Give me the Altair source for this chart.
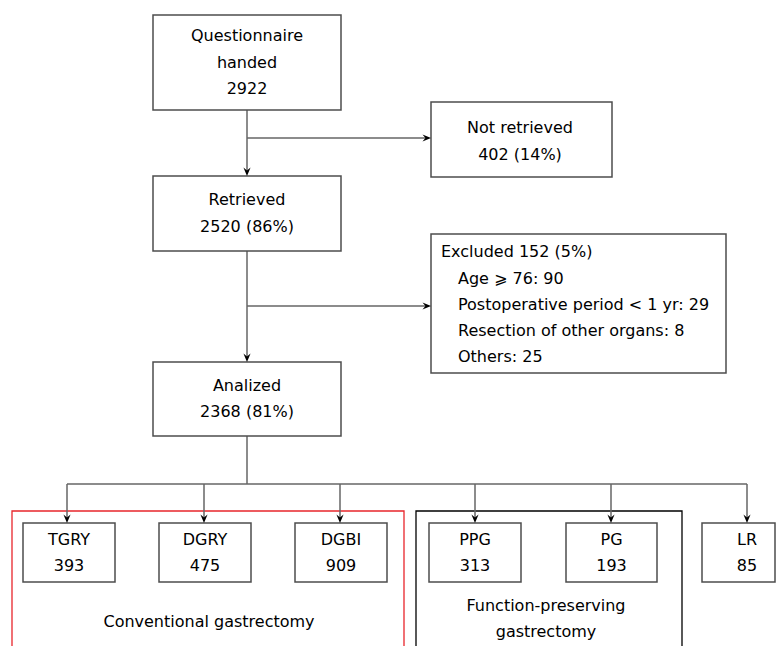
import altair as alt
import pandas as pd

# ---------------- content ----------------
flow_titles = ["Questionnaire\nhanded", "Retrieved", "Analized"]
flow_counts = [2922, 2520, 2368]
flow_pct = ["", "86%", "81%"]

not_retrieved_n = 402
not_retrieved_pct = "14%"

excluded_n = 152
excluded_pct = "5%"
excluded_reasons = ["Age \u2a7e 76: 90", "Postoperative period < 1 yr: 29",
                    "Resection of other organs: 8", "Others: 25"]

groups = ["TGRY", "DGRY", "DGBI", "PPG", "PG", "LR"]
group_n = [393, 475, 909, 313, 193, 85]
categories = ["Conventional gastrectomy", "Function-preserving\ngastrectomy"]

# ---------------- layout (diagram coordinates) ----------------
LH = 26.5
cx_main = 247
main_boxes = [(153, 15, 341, 110), (153, 176, 341, 251), (153, 362, 341, 436)]
nr_box = (431, 102, 612, 177)
ex_box = (431, 234, 726, 373)
small_x = [(23, 115), (159, 251), (295, 387), (429, 521), (566, 657), (702, 775)]
small_y = (523, 582)
arrow_x = [67, 204, 340, 475, 611, 747]
cat_boxes = [(12, 511, 404, 680), (416, 511, 682, 680)]
cat_text = [(209, 622), (546, 619)]
branch_y = 484

boxes, texts = [], []

def add_lines(lines, cx, cy, align="center"):
    n = len(lines)
    for i, ln in enumerate(lines):
        texts.append(dict(x=cx, y=cy + (i - (n - 1) / 2) * LH, t=ln, align=align))

for (x0, y0, x1, y1), title, cnt, pct in zip(main_boxes, flow_titles, flow_counts, flow_pct):
    boxes.append(dict(x0=x0, y0=y0, x1=x1, y1=y1))
    lab = f"{cnt}" + (f" ({pct})" if pct else "")
    add_lines(title.split("\n") + [lab], (x0 + x1) / 2, (y0 + y1) / 2)

boxes.append(dict(x0=nr_box[0], y0=nr_box[1], x1=nr_box[2], y1=nr_box[3]))
add_lines(["Not retrieved", f"{not_retrieved_n} ({not_retrieved_pct})"], 520, 141.5)

boxes.append(dict(x0=ex_box[0], y0=ex_box[1], x1=ex_box[2], y1=ex_box[3]))
texts.append(dict(x=441, y=252, t=f"Excluded {excluded_n} ({excluded_pct})", align="left"))
for i, r in enumerate(excluded_reasons):
    texts.append(dict(x=458, y=279 + i * 26, t=r, align="left"))

for (x0, x1), g, n, ax in zip(small_x, groups, group_n, arrow_x):
    boxes.append(dict(x0=x0, y0=small_y[0], x1=x1, y1=small_y[1]))
    add_lines([g, str(n)], ax if g == "LR" else (x0 + x1) / 2, 553)

for (cx, cy), c in zip(cat_text, categories):
    add_lines(c.split("\n"), cx, cy)

box_df = pd.DataFrame(boxes)
text_df = pd.DataFrame(texts)
cat_df = pd.DataFrame([dict(x0=b[0], y0=b[1], x1=b[2], y1=b[3], c=c)
                       for b, c in zip(cat_boxes, ["#e8262b", "black"])])

segs = [
    (cx_main, 110, cx_main, 172),
    (cx_main, 138, 426, 138),
    (cx_main, 251, cx_main, 358),
    (cx_main, 306, 427, 306),
    (cx_main, 436, cx_main, branch_y),
    (arrow_x[0], branch_y, arrow_x[-1], branch_y),
] + [(ax, branch_y, ax, small_y[0] - 4) for ax in arrow_x]
seg_df = pd.DataFrame(segs, columns=["x0", "y0", "x1", "y1"])

down_df = pd.DataFrame([(cx_main, 176), (cx_main, 362)] + [(ax, small_y[0]) for ax in arrow_x],
                       columns=["x", "y"])
right_df = pd.DataFrame([(431, 138), (431, 306)], columns=["x", "y"])

# ---------------- chart ----------------
xs = alt.Scale(domain=[8, 776], nice=False, zero=False)
ys = alt.Scale(domain=[8, 646], nice=False, zero=False, reverse=True)
X = lambda f: alt.X(f, type="quantitative", scale=xs, axis=None)
Y = lambda f: alt.Y(f, type="quantitative", scale=ys, axis=None)

cat_layer = alt.Chart(cat_df).mark_rect(fill=None, strokeWidth=1.3, clip=True).encode(
    x=X("x0"), x2="x1", y=Y("y0"), y2="y1",
    stroke=alt.Stroke("c:N", scale=None))

box_layer = alt.Chart(box_df).mark_rect(fill="white", stroke="#4d4d4d", strokeWidth=1.5, clip=True).encode(
    x=X("x0"), x2="x1", y=Y("y0"), y2="y1")

seg_layer = alt.Chart(seg_df).mark_rule(color="#666666", strokeWidth=1.5).encode(
    x=X("x0"), x2="x1", y=Y("y0"), y2="y1")

down_layer = alt.Chart(down_df).mark_point(
    shape="M-0.42,-1L0,0L0.42,-1L0,-0.65Z", filled=True, color="black", size=289, opacity=1,
    strokeWidth=0
).encode(x=X("x"), y=Y("y"))

right_layer = alt.Chart(right_df).mark_point(
    shape="M-1,-0.42L0,0L-1,0.42L-0.65,0Z", filled=True, color="black", size=289, opacity=1,
    strokeWidth=0
).encode(x=X("x"), y=Y("y"))

text_c = alt.Chart(text_df[text_df["align"] == "center"]).mark_text(
    font="DejaVu Sans", fontSize=16, color="black", align="center", baseline="middle"
).encode(x=X("x"), y=Y("y"), text="t:N")

text_l = alt.Chart(text_df[text_df["align"] == "left"]).mark_text(
    font="DejaVu Sans", fontSize=16, color="black", align="left", baseline="middle"
).encode(x=X("x"), y=Y("y"), text="t:N")

chart = alt.layer(cat_layer, seg_layer, box_layer, down_layer, right_layer, text_c, text_l).properties(
    width=768, height=638, padding=0, autosize=alt.AutoSizeParams(type="none"),
    background="white"
).configure_view(stroke=None)

chart.save("out.html", embed_options={"renderer": "svg", "actions": False})
